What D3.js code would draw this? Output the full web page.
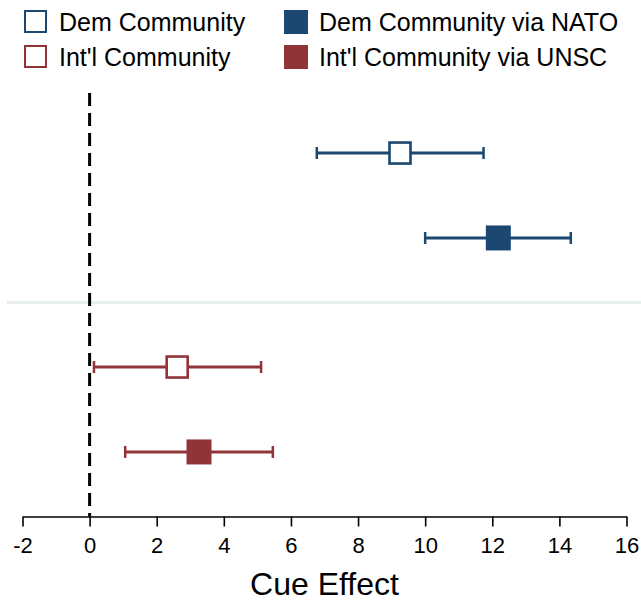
<!DOCTYPE html>
<html>
<head>
<meta charset="utf-8">
<script src="https://cdn.jsdelivr.net/npm/d3@7"></script>
<style>
  html, body { margin: 0; padding: 0; background: #fff; }
  svg { display: block; font-family: "Liberation Sans", Arial, Helvetica, sans-serif; }
</style>
</head>
<body>
<svg id="chart" width="641" height="603"></svg>
<script>
// Cue effect estimates with confidence intervals
const groups = ["Dem", "Intl"];
const labels = ["Dem Community", "Dem Community via NATO", "Int'l Community", "Int'l Community via UNSC"];
const groupOf = ["Dem", "Dem", "Intl", "Intl"];
const filled = [false, true, false, true];
const estimates = [9.25, 12.18, 2.61, 3.26];
const lower = [6.77, 10.0, 0.13, 1.06];
const upper = [11.74, 14.34, 5.11, 5.46];
const xTicks = [-2, 0, 2, 4, 6, 8, 10, 12, 14, 16];

const colors = { Dem: "#1b4770", Intl: "#913439" };

const rows = labels.map((label, i) => ({
  label, group: groupOf[i], filled: filled[i],
  est: estimates[i], lo: lower[i], hi: upper[i],
  slot: i % 2
}));

const svg = d3.select("#chart");

const x = d3.scaleLinear().domain([-2, 16]).range([22.5, 626.5]);
const yGroup = d3.scaleBand().domain(groups).range([88.5, 516.5]).padding(0);
const yInner = d3.scalePoint().domain([0, 1]).range([0, yGroup.bandwidth()]).padding(0.76);
const yOf = d => yGroup(d.group) + yInner(d.slot);

// separator between the two groups
svg.append("line")
  .attr("x1", 7).attr("x2", 641)
  .attr("y1", yGroup("Intl")).attr("y2", yGroup("Intl"))
  .attr("stroke", "#e6eef0").attr("stroke-width", 3);

// reference line at zero
svg.append("line")
  .attr("x1", x(0)).attr("x2", x(0))
  .attr("y1", 93).attr("y2", yGroup.range()[1])
  .attr("stroke", "#000").attr("stroke-width", 3)
  .attr("stroke-dasharray", "13,7");

// x axis
const axis = svg.append("g")
  .attr("transform", `translate(0,${yGroup.range()[1]})`)
  .call(d3.axisBottom(x).tickValues(xTicks).tickFormat(d => String(d))
    .tickSize(10).tickSizeOuter(0).tickPadding(11));
axis.select(".domain").attr("stroke", "#000").attr("stroke-width", 1.6);
axis.selectAll(".tick line").attr("stroke", "#000").attr("stroke-width", 1.6);
axis.selectAll(".tick text")
  .attr("fill", "#000")
  .style("font-size", "22px")
  .style("font-family", "'Liberation Sans', Arial, sans-serif");

svg.append("text")
  .attr("x", (x.range()[0] + x.range()[1]) / 2)
  .attr("y", 595)
  .attr("text-anchor", "middle")
  .style("font-size", "32px")
  .text("Cue Effect");

// confidence intervals
const capH = 6;
const g = svg.append("g");
rows.forEach(d => {
  const y = yOf(d), c = colors[d.group];
  g.append("line").attr("x1", x(d.lo)).attr("x2", x(d.hi)).attr("y1", y).attr("y2", y)
    .attr("stroke", c).attr("stroke-width", 3);
  [d.lo, d.hi].forEach(v => {
    g.append("line").attr("x1", x(v)).attr("x2", x(v)).attr("y1", y - capH).attr("y2", y + capH)
      .attr("stroke", c).attr("stroke-width", 2.5);
  });
});

// point estimates
rows.forEach(d => {
  const y = yOf(d), c = colors[d.group];
  if (d.filled) {
    g.append("rect").attr("x", x(d.est) - 12.5).attr("y", y - 12.5)
      .attr("width", 25).attr("height", 25).attr("fill", c);
  } else {
    g.append("rect").attr("x", x(d.est) - 10.5).attr("y", y - 10.5)
      .attr("width", 21).attr("height", 21).attr("fill", "#fff")
      .attr("stroke", c).attr("stroke-width", 2.6);
  }
});

// legend
const legendCols = [24, 284];
const legendRows = [22, 57];
const legend = svg.append("g");
rows.forEach((d, i) => {
  const lx = legendCols[i % 2], ly = legendRows[Math.floor(i / 2)];
  const c = colors[d.group];
  const item = legend.append("g").attr("transform", `translate(${lx},${ly})`);
  if (d.filled) {
    item.append("rect").attr("x", 0).attr("y", -12).attr("width", 24).attr("height", 24).attr("fill", c);
  } else {
    item.append("rect").attr("x", 1).attr("y", -11).attr("width", 21).attr("height", 21)
      .attr("fill", "#fff").attr("stroke", c).attr("stroke-width", 2);
  }
  item.append("text").attr("x", 35).attr("y", 0).attr("dy", "0.35em")
    .style("font-size", "25px").attr("fill", "#000").text(d.label);
});
</script>
</body>
</html>
